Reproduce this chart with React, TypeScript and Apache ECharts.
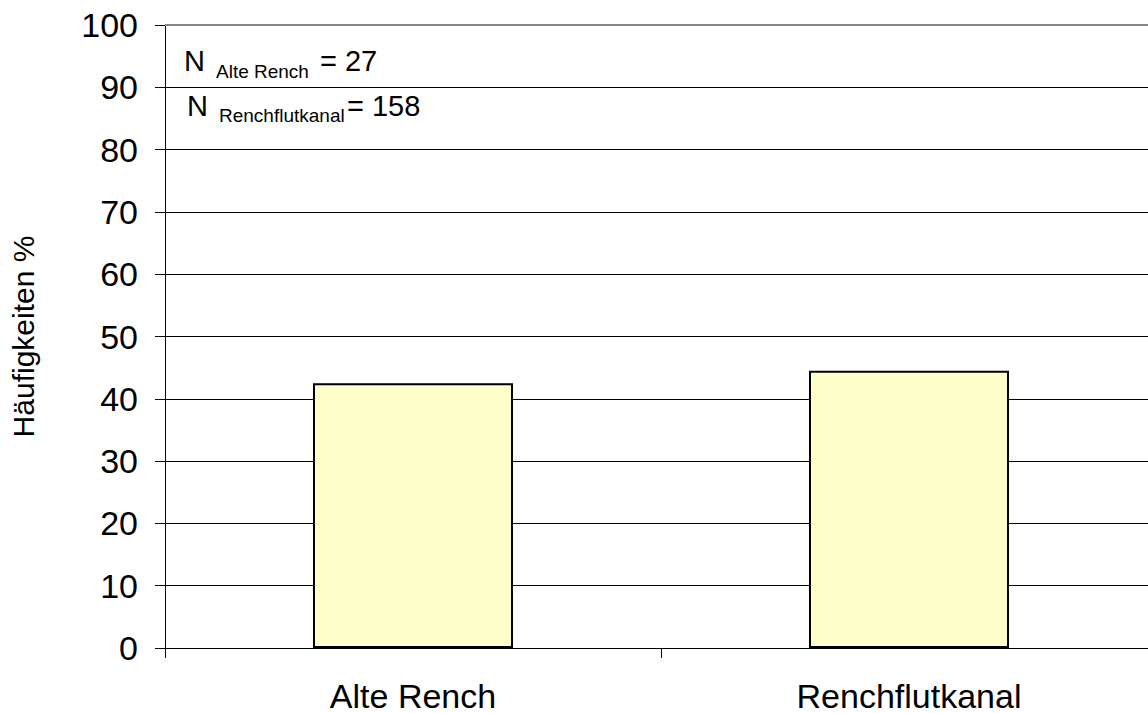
import React, { useEffect, useRef } from "react";
import * as echarts from "echarts";

const categories = ["Alte Rench", "Renchflutkanal"];
const values = [42.5, 44.5];
const yTicks = { min: 0, max: 100, interval: 10 };
const yAxisName = "Häufigkeiten %";
const nLabels = [
  { sub: "Alte Rench", value: "= 27" },
  { sub: "Renchflutkanal", value: "= 158" },
];

const FONT = "'Liberation Sans', Arial, Helvetica, sans-serif";

export default function App() {
  const ref = useRef<HTMLDivElement>(null);
  useEffect(() => {
    if (!ref.current) return;
    const chart = echarts.init(ref.current, null, { renderer: "svg" });
    const splitColors = [] as string[];
    for (let v = yTicks.min; v <= yTicks.max; v += yTicks.interval) {
      splitColors.push(v === yTicks.max ? "#888888" : "#000000");
    }
    chart.setOption({
      animation: false,
      backgroundColor: "#ffffff",
      textStyle: { fontFamily: FONT },
      grid: { left: 165, top: 25, bottom: 65, width: 992, containLabel: false, outerBoundsMode: "none" },
      xAxis: {
        type: "category",
        data: categories,
        axisLine: { lineStyle: { color: "#000", width: 1 } },
        axisTick: { show: true, length: 10, lineStyle: { color: "#000" } },
        axisLabel: { color: "#000", fontSize: 34, margin: 31, fontFamily: FONT },
      },
      yAxis: {
        type: "value",
        min: yTicks.min,
        max: yTicks.max,
        interval: yTicks.interval,
        name: yAxisName,
        nameLocation: "middle",
        nameGap: 127,
        nameTextStyle: { color: "#000", fontSize: 30, fontFamily: FONT },
        axisLine: { show: true, lineStyle: { color: "#000", width: 1 } },
        axisTick: { show: true, length: 10, lineStyle: { color: "#000" } },
        axisLabel: { color: "#000", fontSize: 34, margin: 27, fontFamily: FONT },
        splitLine: { show: true, lineStyle: { color: splitColors, width: 1 } },
      },
      series: [
        {
          type: "bar",
          data: values,
          barWidth: 200,
          itemStyle: { color: "#FFFFCC", borderColor: "#000", borderWidth: 2 },
        },
      ],
      graphic: [
        {
          type: "line",
          shape: { x1: 165, y1: 25, x2: 1148, y2: 25 },
          style: { stroke: "#888888", lineWidth: 2 },
          z: 100,
        },
        { type: "text", x: 184, y: 61, style: { text: "N", fontSize: 29, fontFamily: FONT, fill: "#000", verticalAlign: "middle" } },
        { type: "text", x: 216, y: 71, style: { text: nLabels[0].sub, fontSize: 19, fontFamily: FONT, fill: "#000", verticalAlign: "middle" } },
        { type: "text", x: 320, y: 61, style: { text: nLabels[0].value, fontSize: 29, fontFamily: FONT, fill: "#000", verticalAlign: "middle" } },
        { type: "text", x: 187, y: 106, style: { text: "N", fontSize: 29, fontFamily: FONT, fill: "#000", verticalAlign: "middle" } },
        { type: "text", x: 219, y: 115.5, style: { text: nLabels[1].sub, fontSize: 19, fontFamily: FONT, fill: "#000", verticalAlign: "middle" } },
        { type: "text", x: 347, y: 106, style: { text: nLabels[1].value, fontSize: 29, fontFamily: FONT, fill: "#000", verticalAlign: "middle" } },
      ],
    });
    return () => chart.dispose();
  }, []);
  return (
    <div
      ref={ref}
      style={{ position: "absolute", left: 0, top: 0, width: 1148, height: 713 }}
    />
  );
}
